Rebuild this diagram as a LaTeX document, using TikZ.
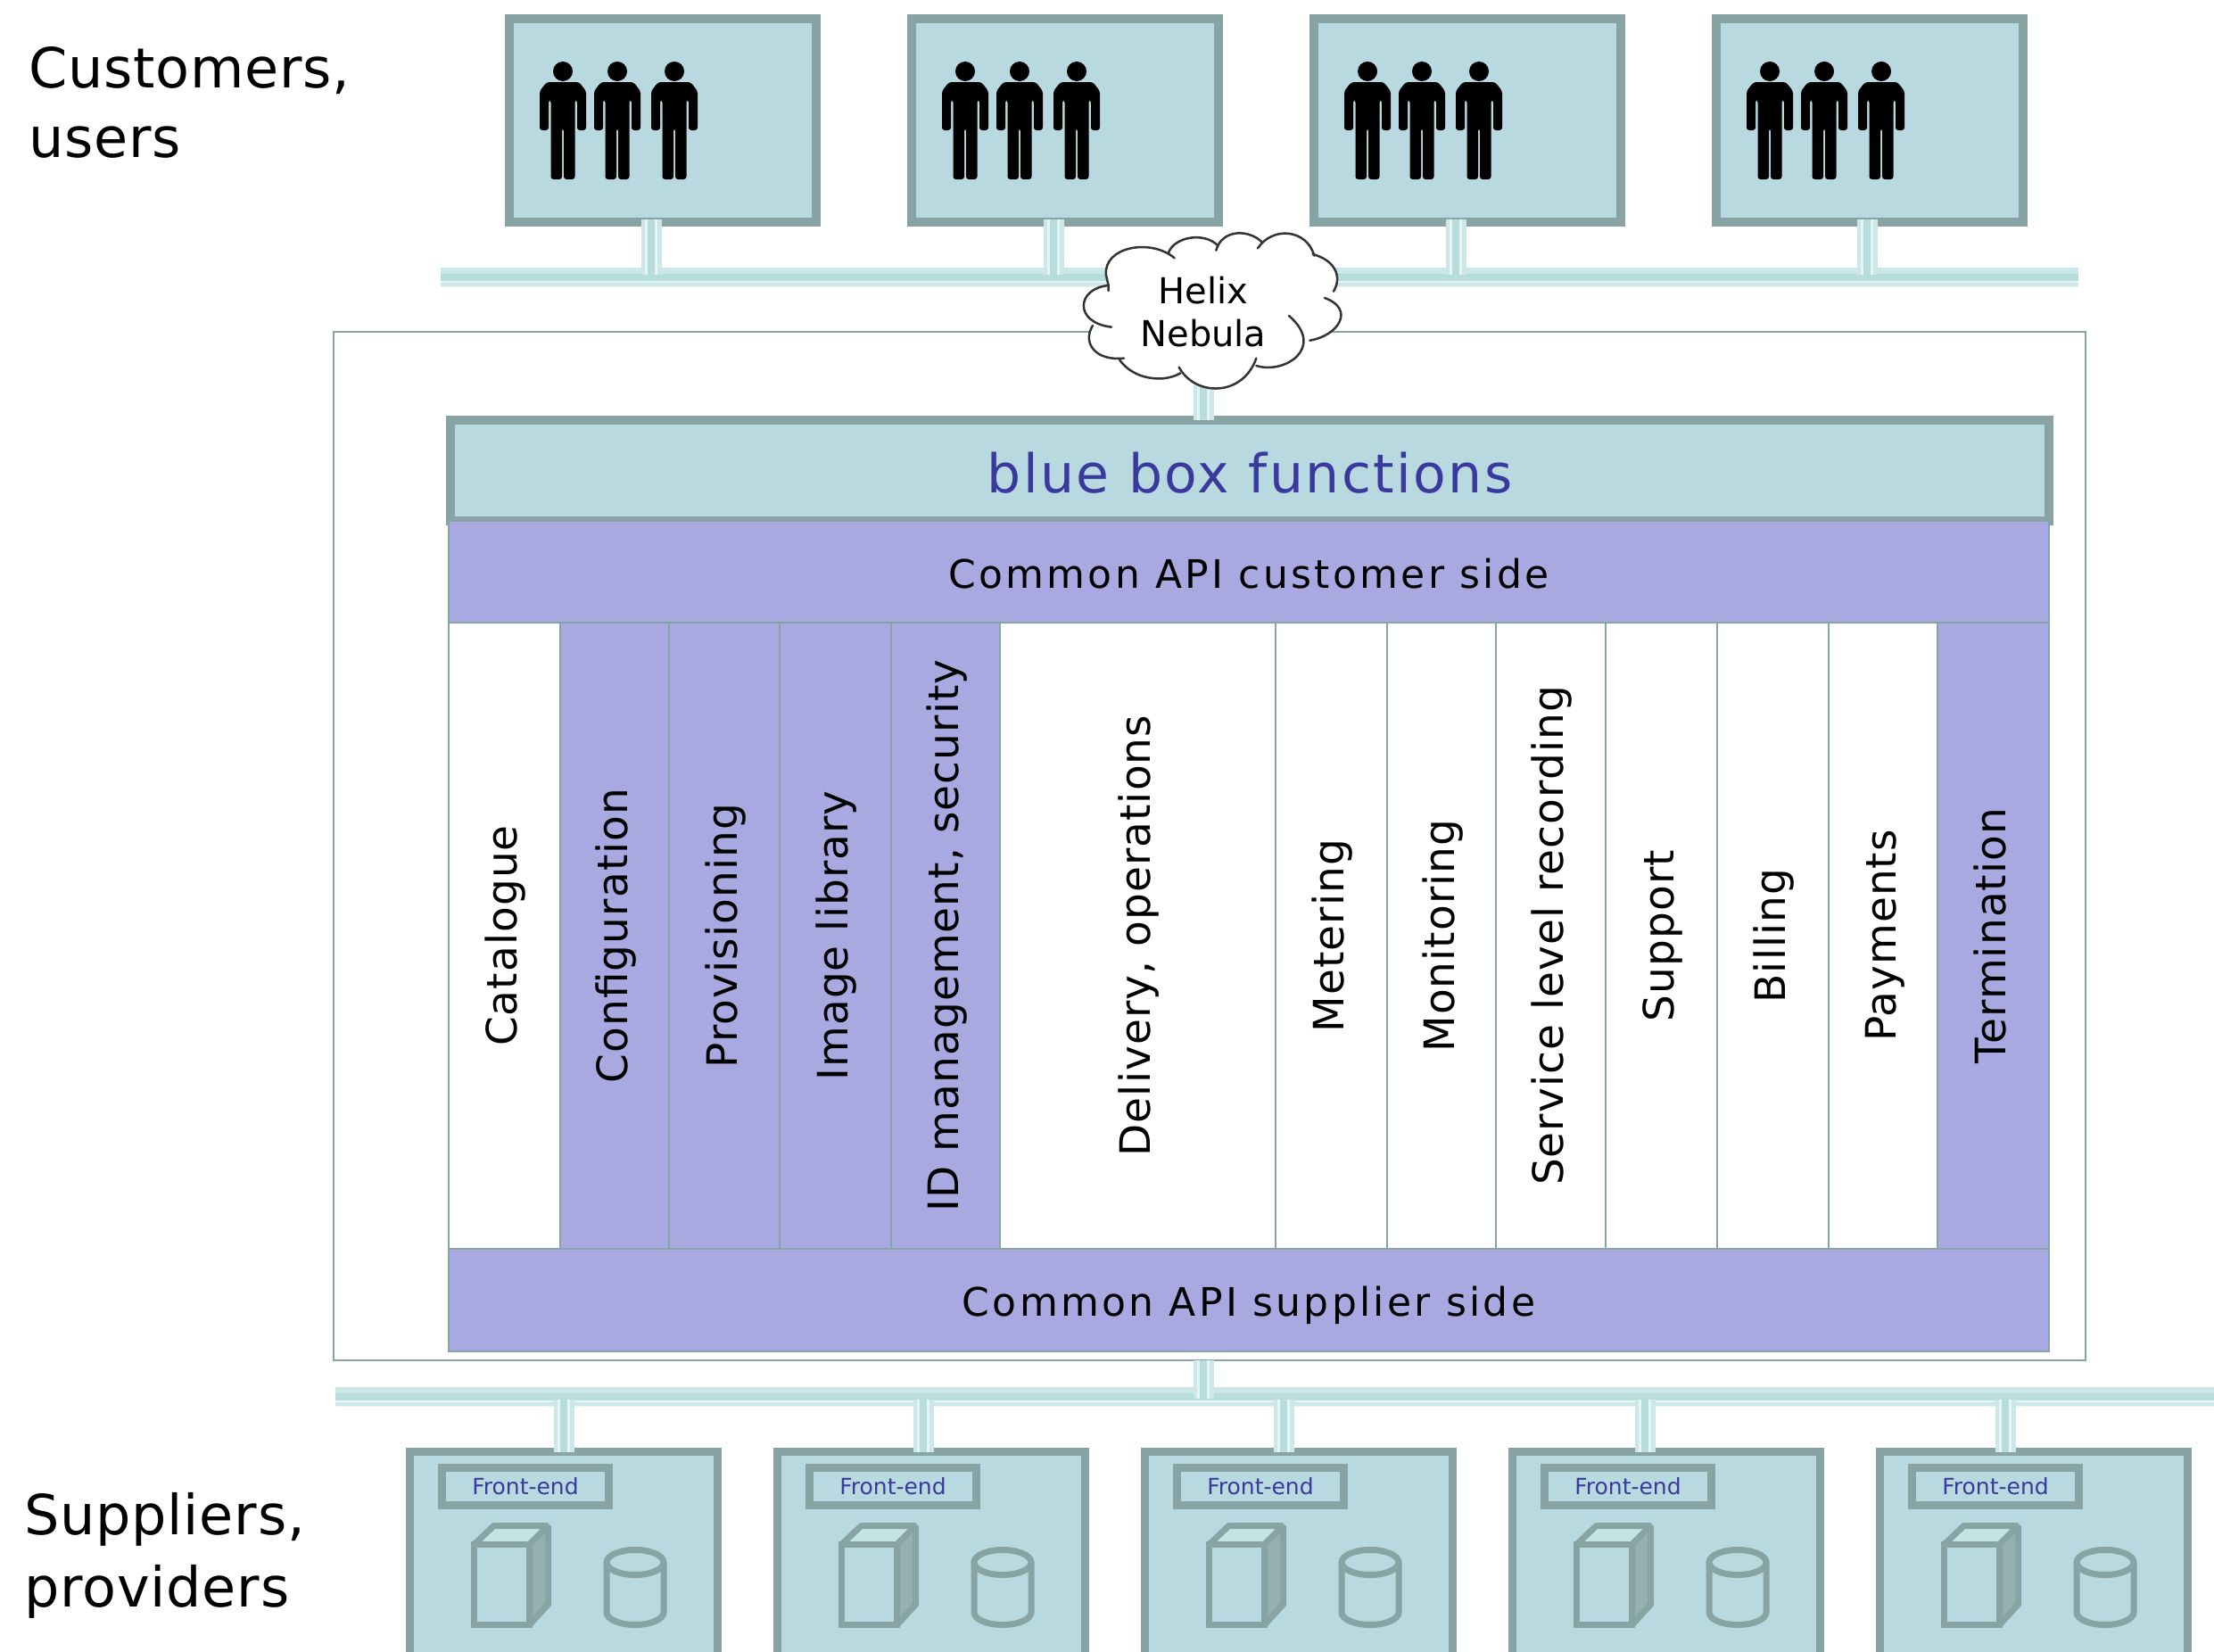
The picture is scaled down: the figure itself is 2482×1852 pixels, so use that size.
\documentclass[tikz,border=0pt]{standalone}
\usepackage{fontspec}
\setmainfont{DejaVu Sans}
\definecolor{boxfill}{HTML}{B9D9E0}
\definecolor{boxedge}{HTML}{87A3A3}
\definecolor{purp}{HTML}{A9A9E2}
\definecolor{pipelt}{HTML}{CBE7E7}
\definecolor{pipemd}{HTML}{B7DCDC}
\definecolor{pipegap}{HTML}{E6F4F4}
\definecolor{inkblue}{HTML}{3A3A9E}
\definecolor{sidegrey}{HTML}{95B0B2}
\definecolor{topface}{HTML}{C4E4E4}
\newcommand\fsz[1]{\fontsize{#1}{#1}\selectfont}
\newcommand\lsp[1]{\addfontfeature{LetterSpace=#1}}
\newcommand\hbus[2]{%
  \draw[pipegap,line width=22pt] ([yshift=0.5pt]#1) -- ([yshift=0.5pt]#2);
  \draw[pipelt,line width=7pt] ([yshift=8pt]#1) -- ([yshift=8pt]#2);
  \draw[pipemd,line width=8pt] (#1) -- (#2);
  \draw[pipelt,line width=4pt] ([yshift=-8pt]#1) -- ([yshift=-8pt]#2);}
\tikzset{
  vpipe/.style={draw=pipelt,line width=23pt,
    postaction={draw=pipegap,line width=14pt},
    postaction={draw=pipemd,line width=8pt}},
  custbox/.style={draw=boxedge,fill=boxfill,line width=10pt,outer sep=0pt,inner sep=0pt,
    minimum width=344pt,minimum height=228pt},
  supbox/.style={draw=boxedge,fill=boxfill,line width=9pt,outer sep=0pt,inner sep=0pt,
    minimum width=345pt,minimum height=240pt},
  felabel/.style={draw=boxedge,fill=boxfill,line width=9pt,outer sep=0pt,inner sep=0pt,
    minimum width=187pt,minimum height=42pt,text=inkblue,font=\fsz{25}},
  colbase/.style={draw=boxedge,line width=2pt,outer sep=0pt,inner sep=0pt,rotate=90,
    minimum width=702pt,font=\fsz{47}\lsp{2.3},text=black,text height=38pt,text depth=10pt},
  colw/.style={colbase,fill=white},
  colp/.style={colbase,fill=purp},
  apibar/.style={draw=boxedge,fill=purp,line width=2pt,outer sep=0pt,inner sep=0pt,
    minimum width=1794pt,font=\fsz{44}\lsp{7.5},text height=46pt,text depth=10pt},
  sidelabel/.style={anchor=base west,inner sep=0pt,font=\fsz{62}\lsp{1.3}},
  person/.pic={
    \fill[black] (0,0) circle (11);
    \fill[black,rounded corners=3pt] (-18,12) -- (18,12) -- (26,22) -- (26,66) -- (16,66) -- (16,32)
      -- (13.5,32) -- (13.5,121) -- (1,121) -- (1,64) -- (-1,64) -- (-1,121) -- (-13.5,121)
      -- (-13.5,32) -- (-16,32) -- (-16,66) -- (-26,66) -- (-26,22) -- cycle;
  },
  servericon/.pic={
    % origin: top-left of the front face, centre of stroke
    \draw[boxedge,line width=7pt,fill=topface,line join=bevel] (0,0) -- (22,-21) -- (83,-21) -- (62,0) -- cycle;
    \draw[boxedge,line width=7pt,fill=sidegrey,line join=bevel] (62,0) -- (83,-21) -- (83,67) -- (62,90) -- cycle;
    \draw[boxedge,line width=7pt,fill=boxfill] (0,0) rectangle (62,90);
  },
  dbicon/.pic={
    % origin: centre of the top ellipse
    \draw[boxedge,line width=7pt,fill=boxfill] (-32,0) -- (-32,56) arc[start angle=180,end angle=360,x radius=32,y radius=-14] -- (32,0);
    \draw[boxedge,line width=7pt,fill=boxfill] (0,0) ellipse[x radius=32,y radius=14];
  },
  lobe/.style={draw=black!80,line width=2.5pt,line cap=round},
}
\begin{document}
\begin{tikzpicture}[x=1pt,y=-1pt]
\clip (0,0) rectangle (2482,1852);
\fill[white] (0,0) rectangle (2482,1852);

% named bus and tap points
\coordinate (tl) at (494,311); \coordinate (tr) at (2330,311);
\coordinate (bl) at (376,1566); \coordinate (br) at (2482,1566);
\coordinate (t1) at (730,308); \coordinate (t2) at (1181,308);
\coordinate (t3) at (1632,308); \coordinate (t4) at (2093,308);
\coordinate (b1) at (632,1569); \coordinate (b2) at (1035,1569);
\coordinate (b3) at (1439,1569); \coordinate (b4) at (1844,1569);
\coordinate (b5) at (2248,1569);
\coordinate (bmid) at (1349,1568);
\coordinate (cloudc) at (1349,400);

% main frame
\node[draw=boxedge,fill=white,line width=2pt,outer sep=0pt,inner sep=0pt,
  minimum width=1964pt,minimum height=1153pt] (frame) at (1355.5,948.5) {};

% buses
\hbus{tl}{tr}
\hbus{bl}{br}

% customer boxes
\foreach \n/\cx in {1/743,2/1194,3/1645,4/2096}{
  \node[custbox] (u\n) at (\cx,135) {};
  \foreach \dx in {-112,-51,13}{
    \pic at (\cx+\dx,80) {person};
  }
}
\foreach \n in {1,2,3,4}{
  \draw[vpipe,shorten >=-3pt] (t\n) -- (t\n |- u\n.south);
}

% supplier boxes
\foreach \n/\cx in {1/632,2/1044,3/1456,4/1868,5/2280}{
  \node[supbox] (s\n) at (\cx,1747.5) {};
  \node[felabel] (f\n) at (\cx-43,1666) {Front-end};
  \pic at (\cx-100.5,1731.5) {servericon};
  \pic at (\cx+80,1751.5) {dbicon};
}
\foreach \n in {1,2,3,4,5}{
  \draw[vpipe] (b\n) -- (b\n |- s\n.north);
}

% centre stack
\draw[vpipe] (frame.south -| bmid) -- (bmid);
\node[draw=boxedge,fill=boxfill,line width=10pt,outer sep=0pt,inner sep=0pt,
  minimum width=1792pt,minimum height=113pt,text=inkblue,font=\fsz{60}\lsp{4},
  text height=50pt,text depth=0pt] (bb) at (1401,527) {blue box functions};
\draw[vpipe] (cloudc) -- (cloudc |- bb.north);
\node[apibar,minimum height=114pt] (apic) at (1400,641) {Common API customer side};
\node[colw,minimum height=125pt] (c1) at (565.5,1049) {Catalogue};
\node[colp,minimum height=122pt] (c2) at (689,1049) {Configuration};
\node[colp,minimum height=124pt] (c3) at (812,1049) {Provisioning};
\node[colp,minimum height=125pt] (c4) at (936.5,1049) {Image library};
\node[colp,minimum height=122pt] (c5) at (1060,1049) {ID management, security};
\node[colw,minimum height=309pt] (c6) at (1275.5,1049) {Delivery, operations};
\node[colw,minimum height=125pt] (c7) at (1492.5,1049) {Metering};
\node[colw,minimum height=122pt] (c8) at (1616,1049) {Monitoring};
\node[colw,minimum height=123pt] (c9) at (1738.5,1049) {Service level recording};
\node[colw,minimum height=125pt] (c10) at (1862.5,1049) {Support};
\node[colw,minimum height=125pt] (c11) at (1987.5,1049) {Billing};
\node[colw,minimum height=122pt] (c12) at (2111,1049) {Payments};
\node[colp,minimum height=125pt] (c13) at (2234.5,1049) {Termination};
\node[apibar,minimum height=115pt] (apis) at (1400,1457.5) {Common API supplier side};

% cloud
\begin{scope}[shift={(1100,240)},x=0.3333pt,y=-0.3333pt]
\fill[white] (428,240) .. controls (320,250) and (310,365) .. (438,380)
  -- (375,375) .. controls (340,430) and (380,495) .. (480,485)
  -- (465,490) .. controls (510,555) and (610,570) .. (670,535)
  -- (665,515) .. controls (720,615) and (880,615) .. (925,485)
  -- (925,510) .. controls (1020,540) and (1160,450) .. (1035,342)
  -- (1105,425) .. controls (1200,410) and (1260,320) .. (1155,282)
  -- (1185,260) .. controls (1215,210) and (1190,155) .. (1115,135)
  -- (1120,140) .. controls (1095,50) and (980,40) .. (930,115)
  -- (945,95) .. controls (900,50) and (810,50) .. (790,122)
  -- (795,105) .. controls (750,60) and (650,75) .. (630,130)
  -- (650,148) .. controls (570,80) and (410,110) .. (420,205) -- cycle;
\draw[lobe] (428,258) -- (428,240) .. controls (320,250) and (310,365) .. (438,380);
\draw[lobe] (375,375) .. controls (340,430) and (380,495) .. (480,485);
\draw[lobe] (465,490) .. controls (510,555) and (610,570) .. (670,535);
\draw[lobe] (665,515) .. controls (720,615) and (880,615) .. (925,485);
\draw[lobe] (925,510) .. controls (1020,540) and (1160,450) .. (1035,342);
\draw[lobe] (1105,425) .. controls (1200,410) and (1260,320) .. (1155,282);
\draw[lobe] (1185,260) .. controls (1215,210) and (1190,155) .. (1115,135);
\draw[lobe] (1120,140) .. controls (1095,50) and (980,40) .. (930,115);
\draw[lobe] (945,95) .. controls (900,50) and (810,50) .. (790,122);
\draw[lobe] (795,105) .. controls (750,60) and (650,75) .. (630,130);
\draw[lobe] (650,148) .. controls (570,80) and (410,110) .. (420,205) -- (428,240);
\end{scope}
\node[align=center,inner sep=0pt,font=\fsz{40}] (helix) at (1349,350) {Helix\\[8pt]Nebula};

% side labels
\node[sidelabel] (cu1) at (32,98) {Customers,};
\node[sidelabel] (cu2) at (32,176) {users};
\node[sidelabel] (su1) at (27,1720) {Suppliers,};
\node[sidelabel] (su2) at (27,1801) {providers};
\end{tikzpicture}
\end{document}
